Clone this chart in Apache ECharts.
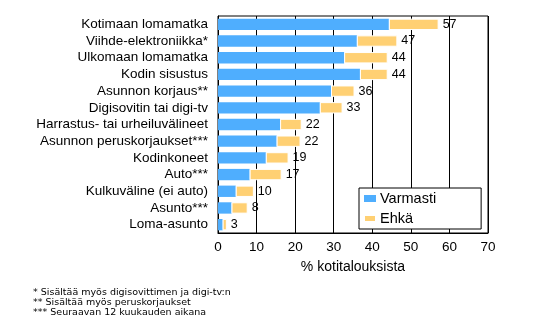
<!DOCTYPE html>
<html><head><meta charset="utf-8">
<script src="https://cdn.jsdelivr.net/npm/echarts@6/dist/echarts.min.js"></script>
<style>html,body{margin:0;padding:0;background:#fff}#c{width:560px;height:322px}</style>
</head><body><div id="c"></div>
<script>
const categories = ["Kotimaan lomamatka","Viihde-elektroniikka*","Ulkomaan lomamatka","Kodin sisustus","Asunnon korjaus**","Digisovitin tai digi-tv","Harrastus- tai urheiluvälineet","Asunnon peruskorjaukset***","Kodinkoneet","Auto***","Kulkuväline (ei auto)","Asunto***","Loma-asunto"];
const varmasti = [44.3, 36, 32.7, 36.8, 29.3, 26.4, 16.1, 15.2, 12.4, 8.2, 4.6, 3.5, 1.2];
const ehka = [12.9, 10.5, 11.3, 7.2, 6.1, 5.9, 5.6, 6.2, 5.9, 8.3, 4.7, 4.2, 1.1];
const totals = [57, 47, 44, 44, 36, 33, 22, 22, 19, 17, 10, 8, 3];
const xTicks = [0,10,20,30,40,50,60,70];
const footnotes = ["* Sisältää myös digisovittimen ja digi-tv:n","** Sisältää myös peruskorjaukset","*** Seuraavan 12 kuukauden aikana"];

const chart = echarts.init(document.getElementById('c'), null, {renderer:'canvas'});
const font = '"Liberation Sans", Arial, sans-serif';
chart.setOption({
  animation:false,
  textStyle:{fontFamily:font, color:'#000'},
  grid:{left:218, right:72, top:16, bottom:89, show:true, borderColor:'#000', borderWidth:1},
  legend:{
    orient:'vertical', left:359, top:188,
    padding:[3,45,3,4], itemGap:5,
    backgroundColor:'#fff', borderColor:'#000', borderWidth:1,
    itemWidth:12, itemHeight:7, icon:'rect',
    textStyle:{fontSize:14.5, fontFamily:font, color:'#000', padding:[0,0,0,-1]},
    data:['Varmasti','Ehkä']
  },
  xAxis:{
    type:'value', min:xTicks[0], max:xTicks[xTicks.length-1], interval:10,
    axisLine:{show:true, lineStyle:{color:'#000'}}, axisTick:{show:false},
    splitLine:{show:true, lineStyle:{color:'#000', width:1}},
    axisLabel:{fontSize:13.5, color:'#000', margin:7, fontFamily:font},
    name:'% kotitalouksista', nameLocation:'middle', nameGap:27,
    nameTextStyle:{fontSize:14, color:'#000', fontFamily:font}
  },
  yAxis:{
    type:'category', data:categories, inverse:true,
    axisLine:{show:true, lineStyle:{color:'#000'}}, axisTick:{show:false},
    axisLabel:{interval:0, hideOverlap:false, fontSize:13.5, lineHeight:14, color:'#000', margin:10, fontFamily:font}
  },
  series:[
    {name:'Varmasti', type:'bar', stack:'a', data:varmasti, barWidth:'68%',
     itemStyle:{color:'#4FAEFE'}},
    {name:'Ehkä', type:'bar', stack:'a', data:ehka, barWidth:'68%',
     itemStyle:{color:'#FFD073', borderColor:'#fff', borderWidth:1},
     label:{show:true, position:'right', distance:4, fontSize:12.5, color:'#000', fontFamily:font,
       formatter:p=>String(totals[p.dataIndex])}}
  ],
  graphic:footnotes.map((t,i)=>({type:'text', left:33, top:288+i*10,
    style:{text:t, fontSize:9.5, fill:'#000', fontFamily:'"DejaVu Sans", sans-serif'}}))
});
</script></body></html>
